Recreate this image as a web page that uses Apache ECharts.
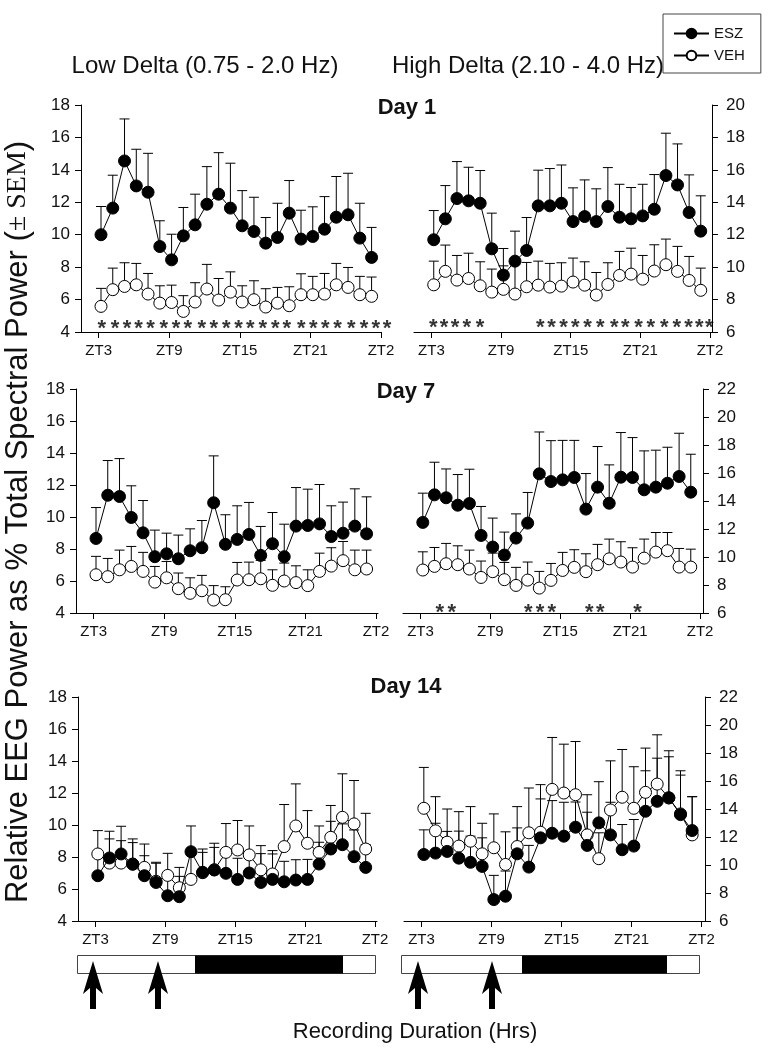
<!DOCTYPE html>
<html>
<head>
<meta charset="utf-8">
<script src="https://cdn.jsdelivr.net/npm/echarts@6/dist/echarts.min.js"></script>
<style>
html, body { margin: 0; padding: 0; background: #fff; }
#chart { width: 774px; height: 1050px; }
</style>
</head>
<body>
<div id="chart"></div>
<script>
// one-hour bins, ZT3 .. ZT2 (next day)
var hours = [3, 4, 5, 6, 7, 8, 9, 10, 11, 12, 13, 14, 15, 16, 17, 18, 19, 20, 21, 22, 23, 24, 25, 26];
var xTickValues = [3, 9, 15, 21, 27];
var xTickLabels = ['ZT3', 'ZT9', 'ZT15', 'ZT21', 'ZT2'];

// Day 1 - low delta
var d1LowEsz    = [10.0, 11.64, 14.55, 13.01, 12.62, 9.27, 8.45, 9.93, 10.61, 11.88, 12.5, 11.64, 10.55, 10.2, 9.48, 9.83, 11.33, 9.73, 9.89, 10.34, 11.08, 11.23, 9.79, 8.6];
var d1LowEszSem = [1.74, 2.03, 2.59, 2.26, 2.4, 1.59, 1.58, 1.75, 1.89, 2.32, 2.56, 2.77, 2.17, 2.11, 1.58, 2.11, 2.01, 1.78, 1.83, 2.01, 2.51, 2.56, 2.15, 1.85];
var d1LowVeh    = [5.58, 6.61, 6.81, 6.91, 6.34, 5.78, 5.82, 5.27, 5.85, 6.65, 5.97, 6.46, 5.85, 5.99, 5.54, 5.78, 5.62, 6.3, 6.3, 6.34, 6.91, 6.75, 6.3, 6.2];
var d1LowVehSem = [1.11, 1.33, 1.46, 1.32, 1.27, 1.07, 1.07, 0.97, 1.19, 1.52, 1.33, 1.25, 1.0, 1.17, 1.13, 0.97, 1.17, 1.29, 1.13, 1.27, 1.32, 1.23, 1.13, 1.19];
// Day 1 - high delta
var d1HighEsz    = [11.69, 12.98, 14.23, 14.09, 13.94, 11.13, 9.51, 10.37, 11.03, 13.78, 13.78, 13.94, 12.81, 13.12, 12.81, 13.74, 13.08, 12.98, 13.16, 13.57, 15.65, 15.07, 13.37, 12.22];
var d1HighEszSem = [1.8, 2.05, 2.28, 2.07, 2.02, 2.2, 1.64, 1.85, 2.03, 2.2, 2.3, 2.36, 2.08, 2.26, 2.02, 2.4, 2.03, 1.93, 1.95, 2.14, 2.61, 2.53, 2.32, 2.18];
var d1HighVeh    = [8.91, 9.74, 9.2, 9.3, 8.85, 8.46, 8.63, 8.34, 8.79, 8.89, 8.77, 8.83, 9.08, 8.89, 8.28, 8.93, 9.49, 9.57, 9.26, 9.76, 10.15, 9.74, 9.18, 8.57];
var d1HighVehSem = [1.46, 1.62, 1.52, 1.56, 1.48, 1.42, 1.45, 1.95, 1.5, 1.48, 1.46, 1.44, 1.48, 1.44, 1.39, 1.34, 1.48, 1.6, 1.46, 1.62, 1.58, 1.54, 1.48, 1.37];

// Day 7 - low delta
var d7LowEsz    = [8.66, 11.36, 11.28, 9.97, 9.01, 7.52, 7.7, 7.39, 7.89, 8.08, 10.89, 8.29, 8.6, 8.91, 7.6, 8.33, 7.52, 9.43, 9.47, 9.57, 8.78, 8.99, 9.43, 8.95];
var d7LowEszSem = [1.93, 2.17, 2.37, 1.98, 2.02, 1.66, 1.29, 1.48, 1.37, 1.7, 2.93, 1.85, 2.1, 2.0, 1.81, 1.95, 2.03, 2.41, 2.27, 2.46, 1.92, 1.94, 2.33, 2.31];
var d7LowVeh    = [6.39, 6.27, 6.7, 6.91, 6.6, 5.93, 6.2, 5.52, 5.23, 5.39, 4.81, 4.83, 6.06, 6.08, 6.14, 5.73, 6.0, 5.9, 5.71, 6.6, 6.93, 7.27, 6.7, 6.75];
var d7LowVehSem = [1.15, 1.14, 1.23, 1.25, 1.19, 0.98, 1.02, 0.98, 0.97, 0.96, 0.9, 0.81, 1.1, 1.1, 1.15, 0.97, 1.12, 1.05, 0.99, 1.14, 1.15, 1.2, 1.23, 1.18];
// Day 7 - high delta
var d7HighEsz    = [12.47, 14.44, 14.23, 13.7, 13.82, 11.54, 10.71, 10.14, 11.35, 12.42, 15.94, 15.39, 15.51, 15.68, 13.42, 14.99, 13.84, 15.7, 15.68, 14.8, 14.99, 15.27, 15.75, 14.63];
var d7HighEszSem = [2.09, 2.33, 2.06, 2.19, 2.45, 2.07, 2.07, 1.64, 1.73, 2.19, 2.99, 2.92, 2.82, 2.65, 2.54, 2.9, 2.74, 3.19, 2.85, 2.78, 2.64, 2.57, 3.09, 2.71];
var d7HighVeh    = [9.07, 9.33, 9.52, 9.45, 9.14, 8.54, 8.95, 8.38, 7.97, 8.35, 7.78, 8.33, 9.04, 9.26, 8.95, 9.45, 9.87, 9.64, 9.28, 9.92, 10.35, 10.45, 9.28, 9.28];
var d7HighVehSem = [1.3, 1.35, 1.45, 1.35, 1.35, 1.17, 1.33, 1.23, 1.29, 1.29, 1.19, 1.21, 1.29, 1.26, 1.28, 1.45, 1.41, 1.45, 1.38, 1.36, 1.4, 1.3, 1.33, 1.28];

// Day 14 - low delta
var d14LowEsz    = [6.83, 7.94, 8.19, 7.55, 6.83, 6.41, 5.58, 5.52, 8.33, 7.04, 7.19, 6.98, 6.6, 7.0, 6.41, 6.6, 6.45, 6.56, 6.6, 7.56, 8.5, 8.77, 8.02, 7.35];
var d14LowEszSem = [1.15, 1.19, 0.83, 1.35, 1.25, 1.2, 1.12, 1.27, 1.61, 1.25, 1.41, 1.22, 1.32, 1.2, 1.8, 1.59, 1.28, 1.27, 1.25, 1.36, 1.73, 1.3, 1.67, 1.42];
var d14LowVeh    = [8.19, 7.62, 7.62, 7.56, 7.35, 6.48, 6.85, 6.08, 6.6, 7.02, 7.2, 8.29, 8.44, 8.13, 7.2, 6.94, 8.65, 9.94, 8.86, 8.29, 9.23, 10.48, 10.07, 8.5];
var d14LowVehSem = [1.46, 1.99, 2.3, 1.57, 1.46, 1.19, 1.38, 1.27, 1.5, 1.48, 1.66, 1.8, 1.84, 1.81, 1.51, 1.46, 2.63, 2.63, 2.04, 1.65, 1.99, 2.72, 2.71, 2.23];
// Day 14 - high delta
var d14HighEsz    = [10.75, 10.85, 10.97, 10.49, 10.19, 9.9, 7.53, 7.77, 10.8, 9.85, 11.94, 12.27, 12.06, 12.7, 11.4, 13.01, 12.15, 11.09, 11.35, 13.84, 14.55, 14.8, 13.6, 12.46];
var d14HighEszSem = [1.76, 2.13, 1.43, 1.93, 1.87, 2.04, 1.73, 1.8, 1.85, 1.55, 2.78, 2.33, 2.42, 1.8, 2.37, 2.94, 2.33, 1.8, 1.9, 2.89, 3.08, 2.93, 2.82, 2.42];
var d14HighVeh    = [14.05, 12.44, 11.63, 11.35, 11.7, 10.8, 11.23, 10.04, 11.32, 12.3, 12.34, 15.4, 15.14, 15.02, 12.15, 10.45, 13.93, 14.84, 14.05, 15.19, 15.78, 14.79, 13.65, 12.15];
var d14HighVehSem = [2.92, 2.44, 2.37, 2.46, 2.47, 2.18, 2.42, 2.33, 2.85, 3.2, 3.4, 3.71, 3.49, 3.8, 2.87, 1.85, 3.51, 3.41, 2.97, 3.16, 3.52, 3.37, 3.08, 2.73];

// significance marks (hour position of each *)
var d1LowStars  = [3.26, 4.39, 5.41, 6.4, 7.4, 8.53, 9.58, 10.57, 11.76, 12.79, 13.84, 14.89, 15.88, 16.96, 18.01, 19.0, 20.22, 21.24, 22.26, 23.31, 24.48, 25.55, 26.55, 27.52];
var d1HighStars = [3.17, 4.09, 5.03, 6.04, 7.18, 12.38, 13.35, 14.38, 15.39, 16.45, 17.54, 18.75, 19.7, 20.84, 21.9, 23.05, 24.14, 25.15, 26.07, 26.93];
var d7HighStars = [4.66, 5.69, 12.26, 13.27, 14.27, 17.48, 18.43, 21.64];

var FONT = '"Liberation Sans", Arial, sans-serif';
var NARROW = '"Liberation Sans Narrow", "Liberation Sans", Arial, sans-serif';
var binOffset = 0.2;

var panels = [
    { grid: { left: 81, top: 105, width: 300, height: 227 }, xMax: 27.0, yMin: 4, yMax: 18, side: 'left',
      esz: d1LowEsz, eszSem: d1LowEszSem, veh: d1LowVeh, vehSem: d1LowVehSem, stars: d1LowStars, starY: 4.5 },
    { grid: { left: 414, top: 105, width: 298, height: 227 }, xMax: 27.17, yMin: 6, yMax: 20, side: 'right',
      esz: d1HighEsz, eszSem: d1HighEszSem, veh: d1HighVeh, vehSem: d1HighVehSem, stars: d1HighStars, starY: 6.55 },
    { grid: { left: 76, top: 389, width: 302, height: 224 }, xMax: 27.17, yMin: 4, yMax: 18, side: 'left',
      esz: d7LowEsz, eszSem: d7LowEszSem, veh: d7LowVeh, vehSem: d7LowVehSem, stars: [], starY: 4.5 },
    { grid: { left: 403, top: 389, width: 300, height: 224 }, xMax: 27.25, yMin: 6, yMax: 22, side: 'right',
      esz: d7HighEsz, eszSem: d7HighEszSem, veh: d7HighVeh, vehSem: d7HighVehSem, stars: d7HighStars, starY: 6.36 },
    { grid: { left: 78, top: 697, width: 299, height: 224 }, xMax: 27.17, yMin: 4, yMax: 18, side: 'left',
      esz: d14LowEsz, eszSem: d14LowEszSem, veh: d14LowVeh, vehSem: d14LowVehSem, stars: [], starY: 4.5 },
    { grid: { left: 404, top: 697, width: 301, height: 224 }, xMax: 27.3, yMin: 6, yMax: 22, side: 'right',
      esz: d14HighEsz, eszSem: d14HighEszSem, veh: d14HighVeh, vehSem: d14HighVehSem, stars: [], starY: 6.5 }
];

// T-shaped upward error bar
function errRender(params, api) {
    var x = api.value(0), y = api.value(1), e = api.value(2);
    var p0 = api.coord([x, y]);
    var p1 = api.coord([x, y + e]);
    var st = { stroke: '#000', lineWidth: 1 };
    return {
        type: 'group',
        children: [
            { type: 'line', shape: { x1: p0[0], y1: p0[1], x2: p1[0], y2: p1[1] }, style: st },
            { type: 'line', shape: { x1: p1[0] - 5, y1: p1[1], x2: p1[0] + 5, y2: p1[1] }, style: st }
        ]
    };
}

var grids = [], xAxes = [], yAxes = [], series = [];
panels.forEach(function (p, i) {
    grids.push(Object.assign({ outerBoundsMode: 'none', containLabel: false }, p.grid));
    xAxes.push({
        type: 'value', gridIndex: i, min: 1.5, max: p.xMax,
        axisLine: { show: true, onZero: false, lineStyle: { color: '#000', width: 1 } },
        axisTick: { show: true, customValues: xTickValues, length: 6, lineStyle: { color: '#000' } },
        axisLabel: {
            customValues: xTickValues, margin: 11, fontSize: 15, fontFamily: NARROW, color: '#111',
            formatter: function (v) { return xTickLabels[xTickValues.indexOf(v)] || ''; }
        },
        splitLine: { show: false }
    });
    yAxes.push({
        type: 'value', gridIndex: i, min: p.yMin, max: p.yMax, interval: 2, position: p.side,
        axisLine: { show: true, lineStyle: { color: '#000', width: 1 } },
        axisTick: { show: true, length: 6, lineStyle: { color: '#000' } },
        axisLabel: { margin: p.side === 'left' ? 11 : 14, fontSize: 17, fontFamily: FONT, color: '#111' },
        splitLine: { show: false }
    });
    var toErr = function (vals, sems) {
        return vals.map(function (v, k) { return [hours[k] + binOffset, v, sems[k]]; });
    };
    var toPts = function (vals) {
        return vals.map(function (v, k) { return [hours[k] + binOffset, v]; });
    };
    series.push({
        name: 'errVEH', type: 'custom', xAxisIndex: i, yAxisIndex: i, renderItem: errRender,
        encode: { x: 0, y: 1 }, data: toErr(p.veh, p.vehSem), z: 1, silent: true
    });
    series.push({
        name: 'errESZ', type: 'custom', xAxisIndex: i, yAxisIndex: i, renderItem: errRender,
        encode: { x: 0, y: 1 }, data: toErr(p.esz, p.eszSem), z: 1, silent: true
    });
    series.push({
        name: 'VEH', type: 'line', xAxisIndex: i, yAxisIndex: i, data: toPts(p.veh),
        symbol: 'circle', symbolSize: 12, showAllSymbol: true, z: 3,
        lineStyle: { color: '#000', width: 1 },
        itemStyle: { color: '#fff', borderColor: '#000', borderWidth: 1 }
    });
    series.push({
        name: 'ESZ', type: 'line', xAxisIndex: i, yAxisIndex: i, data: toPts(p.esz),
        symbol: 'circle', symbolSize: 12, showAllSymbol: true, z: 4,
        lineStyle: { color: '#000', width: 1 },
        itemStyle: { color: '#000', borderColor: '#000', borderWidth: 1 }
    });
    if (p.stars.length) {
        series.push({
            name: 'sig', type: 'scatter', xAxisIndex: i, yAxisIndex: i, clip: false, silent: true, z: 5,
            data: p.stars.map(function (h) { return [h, p.starY]; }),
            symbol: 'circle', symbolSize: 2, itemStyle: { color: 'rgba(255,255,255,0)' },
            label: { show: true, position: 'inside', formatter: '*', fontSize: 22, fontWeight: 'bold', fontFamily: FONT, color: '#000', offset: [0, 5] }
        });
    }
});

function arrow(x) {
    return {
        type: 'polygon',
        shape: { points: [[x, 961], [x + 10, 994], [x + 3, 988], [x + 3, 1009], [x - 3, 1009], [x - 3, 988], [x - 10, 994]] },
        style: { fill: '#000' }
    };
}

function txt(text, x, y, font) {
    return {
        type: 'text', x: x, y: y,
        style: { text: text, font: font, fill: '#111', align: 'center', verticalAlign: 'middle' }
    };
}

var graphics = [
    txt('Low Delta (0.75 - 2.0 Hz)', 205, 66, '24px ' + FONT),
    txt('High Delta (2.10 - 4.0 Hz)', 528, 66, '24px ' + FONT),
    txt('Day 1', 407, 108, 'bold 22px ' + FONT),
    txt('Day 7', 406, 392, 'bold 22px ' + FONT),
    txt('Day 14', 406, 687, 'bold 22px ' + FONT),
    txt('Recording Duration (Hrs)', 415, 1032, '22px ' + FONT),
    {
        type: 'text', x: 18, y: 522, rotation: Math.PI / 2,
        style: {
            text: '{a|Relative EEG Power as % Total Spectral Power (}{b|\u00b1 SEM}{a|)}',
            align: 'center', verticalAlign: 'middle', fill: '#111',
            rich: {
                a: { fontSize: 31, fontFamily: FONT, fill: '#111' },
                b: { fontSize: 28, fontFamily: '"Liberation Serif", "Times New Roman", serif', fill: '#111' }
            }
        }
    },
    // light / dark bars
    { type: 'rect', shape: { x: 77.5, y: 955.5, width: 298, height: 18 }, style: { fill: '#fff', stroke: '#444', lineWidth: 1 } },
    { type: 'rect', shape: { x: 195, y: 955.5, width: 148, height: 18 }, style: { fill: '#000' } },
    { type: 'rect', shape: { x: 401.5, y: 955.5, width: 298, height: 18 }, style: { fill: '#fff', stroke: '#444', lineWidth: 1 } },
    { type: 'rect', shape: { x: 522, y: 955.5, width: 145, height: 18 }, style: { fill: '#000' } },
    arrow(93), arrow(158), arrow(418), arrow(492)
];

var chart = echarts.init(document.getElementById('chart'), null, { renderer: 'canvas' });
chart.setOption({
    animation: false,
    backgroundColor: '#fff',
    legend: {
        data: ['ESZ', 'VEH'], orient: 'vertical', left: 663, top: 14,
        itemWidth: 35, itemHeight: 12, itemGap: 7,
        padding: [12, 16, 10, 10],
        borderColor: '#444', borderWidth: 1,
        textStyle: { fontSize: 15, fontFamily: FONT, color: '#111' },
        selectedMode: false
    },
    grid: grids,
    xAxis: xAxes,
    yAxis: yAxes,
    series: series,
    graphic: graphics
});
</script>
</body>
</html>
